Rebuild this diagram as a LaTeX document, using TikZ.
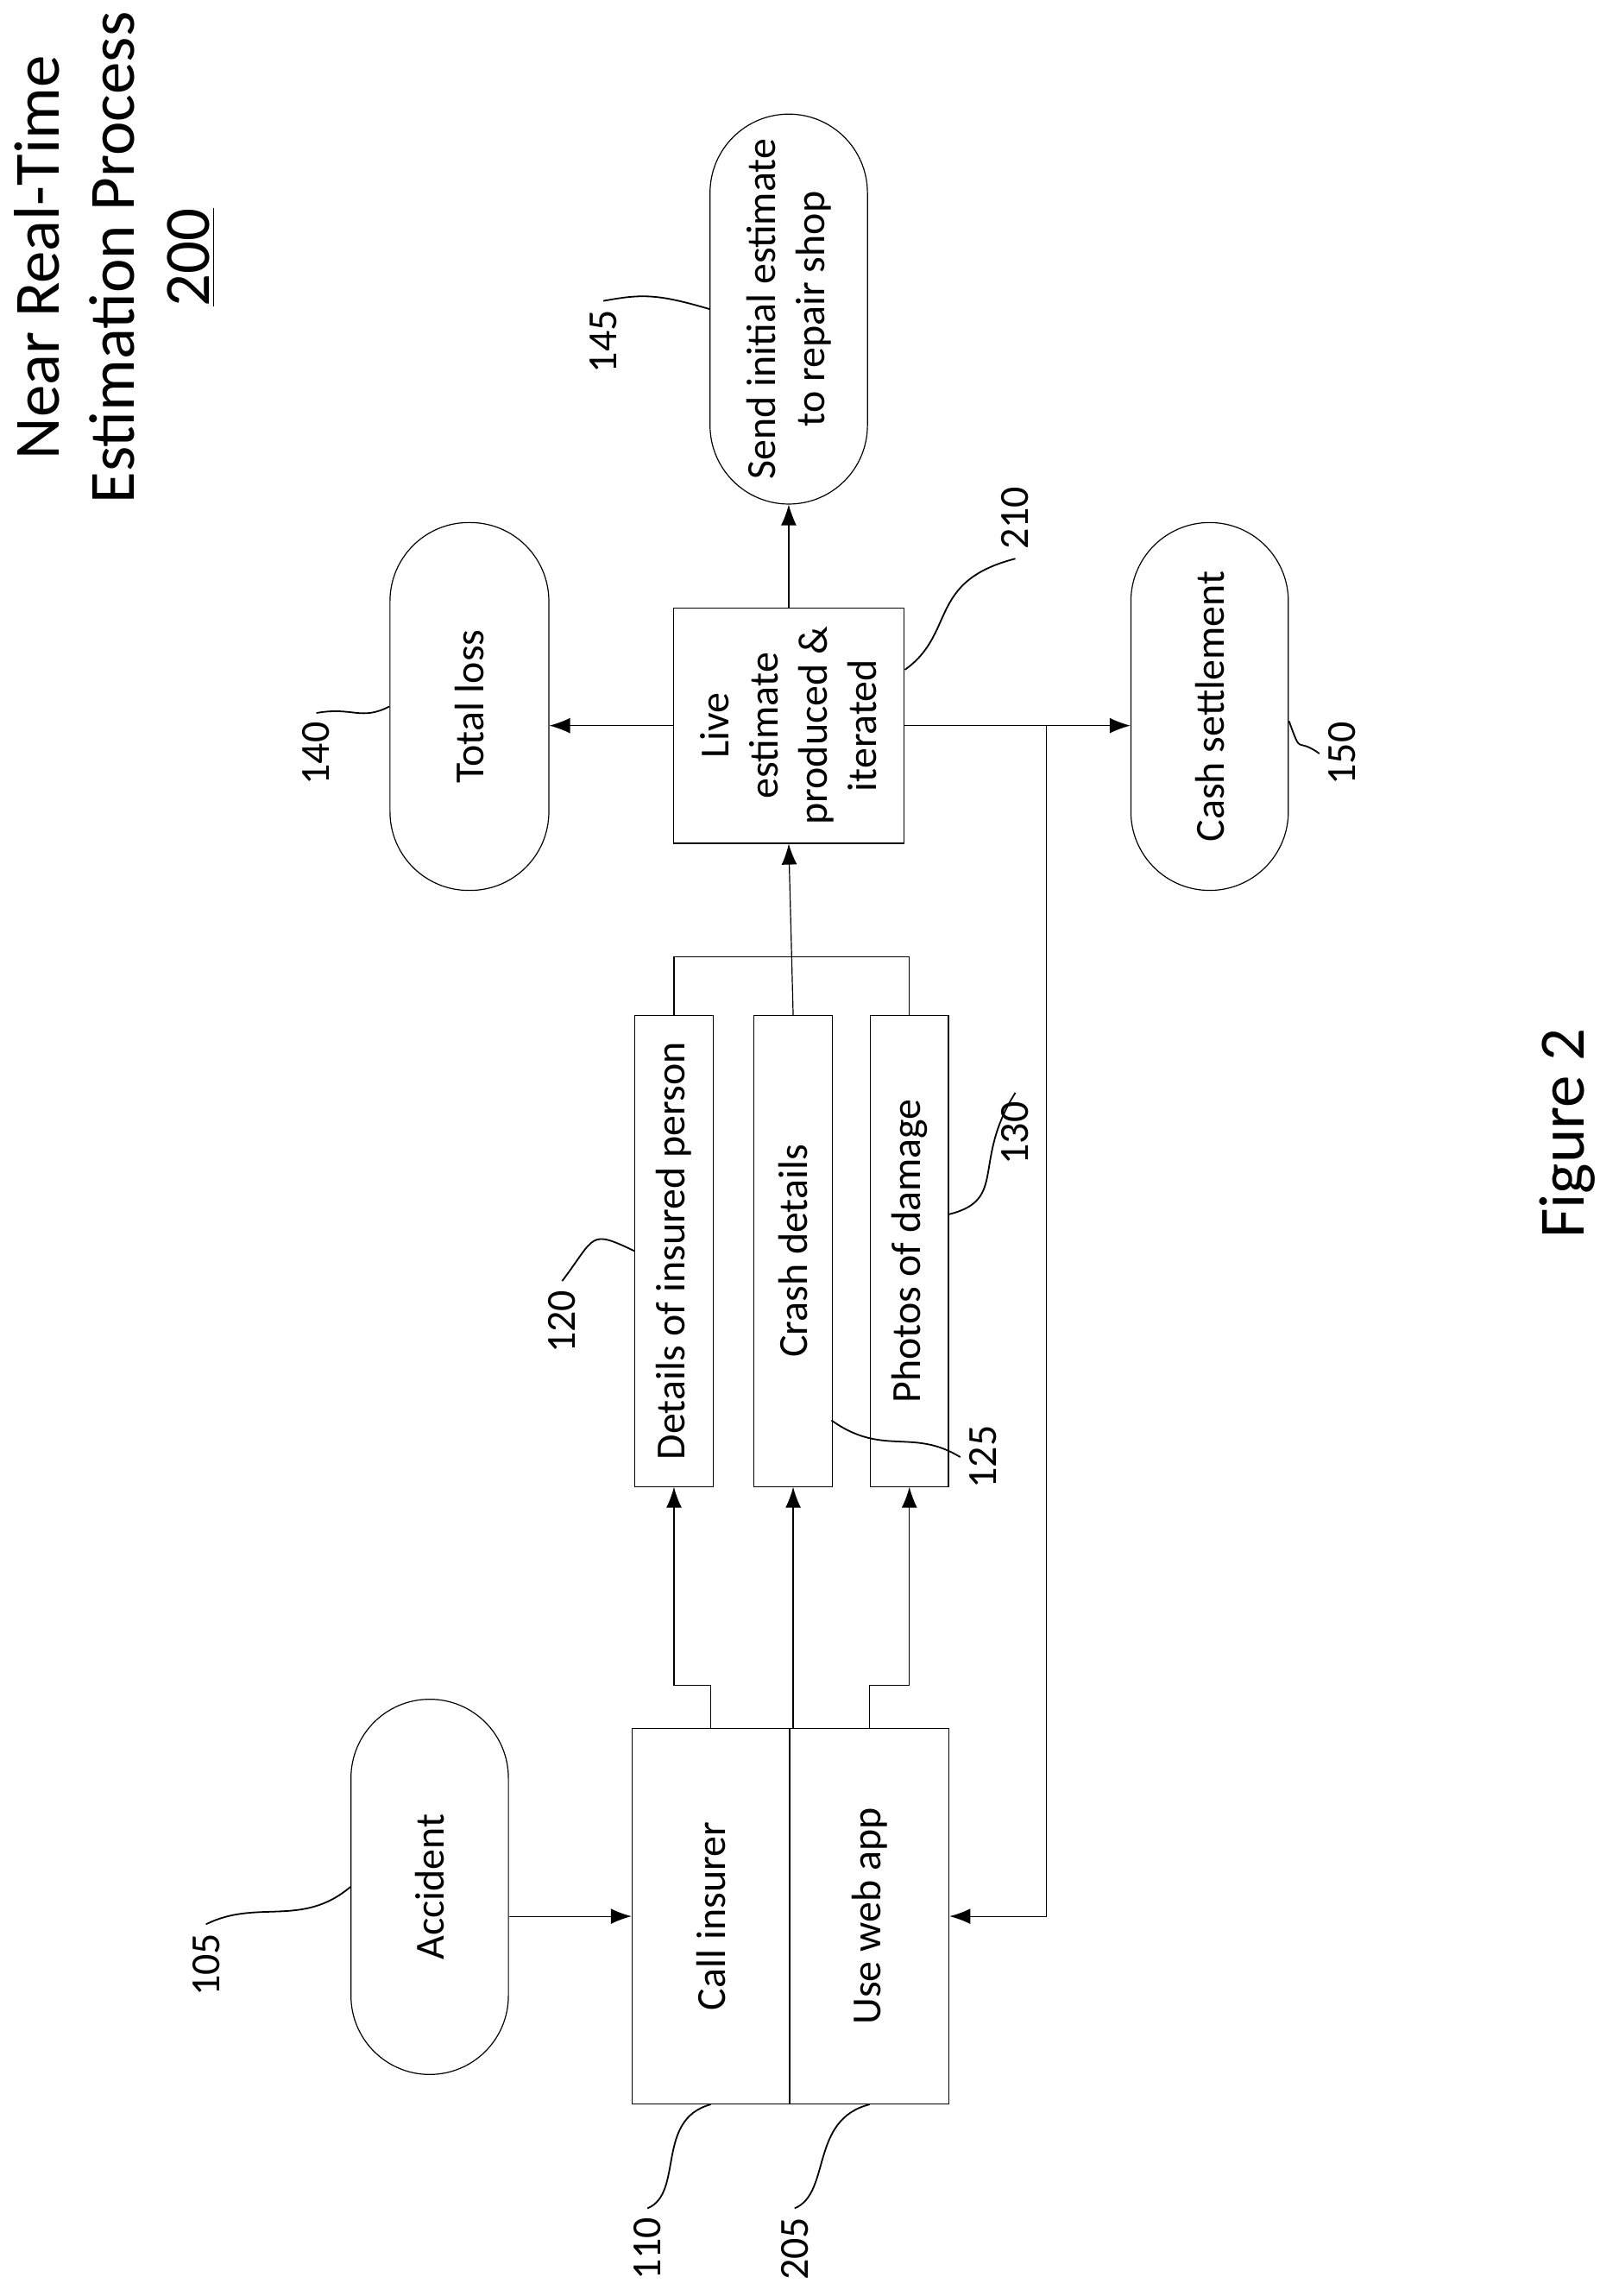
\documentclass[tikz,border=0pt]{standalone}
\usepackage{fontspec}
\setmainfont{Carlito}
\usetikzlibrary{arrows.meta}
\begin{document}
\begin{tikzpicture}[x=0.02cm,y=-0.02cm,
	box/.style={draw, thin, rotate=90, inner sep=0pt, align=center, font=\fontsize{16}{19}\selectfont},
	stad/.style={box, rounded corners=1.07cm},
	arr/.style={-{Latex[length=8pt,width=6pt]}, thin},
	lead/.style={semithick},
	lbl/.style={rotate=90, font=\fontsize{16}{19}\selectfont}]
	
	\useasboundingbox (0,0) rectangle (1100,1560);
	
	\node[rotate=90, align=center, font=\fontsize{25}{29}\selectfont] (title) at (78,175) {Near Real-Time\\Estimation Process\\\underline{200}};
	
	\node[stad, minimum width=5.1cm, minimum height=2.14cm] (acc) at (292,1282) {Accident};
	\node[box, minimum width=5.1cm, minimum height=2.14cm] (call) at (483,1302) {Call insurer};
	\node[box, minimum width=5.1cm, minimum height=2.16cm] (web) at (591,1302) {Use web app};
	
	\node[box, minimum width=6.4cm, minimum height=1.06cm] (det) at (458,850) {Details of insured person};
	\node[box, minimum width=6.4cm, minimum height=1.06cm] (crash) at (539,850) {Crash details};
	\node[box, minimum width=6.4cm, minimum height=1.06cm] (photo) at (618,850) {Photos of damage};
	
	\node[box, minimum width=3.2cm, minimum height=3.14cm] (live) at (536,493) {Live\\estimate\\produced \&\\iterated};
	\node[stad, minimum width=5cm, minimum height=2.16cm] (loss) at (319,480) {Total loss};
	\node[stad, minimum width=5.3cm, minimum height=2.14cm] (send) at (536,210) {Send initial estimate\\to repair shop};
	\node[stad, minimum width=5cm, minimum height=2.14cm] (cash) at (822,480) {Cash settlement};
	
	\coordinate (j1) at (483,1145);
	\coordinate (j2) at (591,1145);
	\coordinate (top) at (539,650);
	\coordinate (back) at (711,493);
	
	\draw[arr] (acc.south |- call.north) -- (call.north);
	\draw[arr] (call.east) -- (j1) -| (det.west);
	\draw[arr] (crash.west |- call.east) -- (crash.west);
	\draw[arr] (web.east) -- (j2) -| (photo.west);
	\draw (det.east) |- (top) -| (photo.east);
	\draw[arr] (crash.east) -- (live.west);
	\draw[arr] (live.north) -- (loss.south |- live.north);
	\draw[arr] (live.east) -- (send.west);
	\draw[arr] (live.south) -- (cash.north |- live.south);
	\draw[arr] (back) |- (web.south);
	
	\node[lbl] (n105) at (140,1335) {105};
	\node[lbl] (n110) at (440,1528) {110};
	\node[lbl] (n205) at (540,1528) {205};
	\node[lbl] (n120) at (382,898) {120};
	\node[lbl] (n125) at (668,990) {125};
	\node[lbl] (n130) at (690,770) {130};
	\node[lbl] (n140) at (215,512) {140};
	\node[lbl] (n145) at (410,232) {145};
	\node[lbl] (n150) at (912,512) {150};
	\node[lbl] (n210) at (690,352) {210};
	
	\draw[lead] (n105.east) .. controls (175,1290) and (205,1310) .. (acc.north);
	\draw[lead] (n110.east) .. controls (465,1490) and (445,1440) .. (call.west);
	\draw[lead] (n205.east) .. controls (565,1490) and (550,1440) .. (web.west);
	\draw[lead] (n120.east) .. controls (405,840) and (400,835) .. (det.north);
	\draw[lead] (565,965) .. controls (600,990) and (620,970) .. (n125.north);
	\draw[lead] (645,825) .. controls (685,815) and (660,790) .. (n130.east);
	\draw[lead] (n140.east) .. controls (240,480) and (245,490) .. (loss.north);
	\draw[lead] (n145.east) .. controls (435,200) and (445,199) .. (send.north);
	\draw[lead] (876,490) .. controls (885,515) and (880,500) .. (n150.north);
	\draw[lead] (615,455) .. controls (650,430) and (630,395) .. (n210.west);
	
	\node[rotate=90, font=\fontsize{25}{29}\selectfont] (fig) at (1065,770) {Figure 2};
	
\end{tikzpicture}
\end{document}
